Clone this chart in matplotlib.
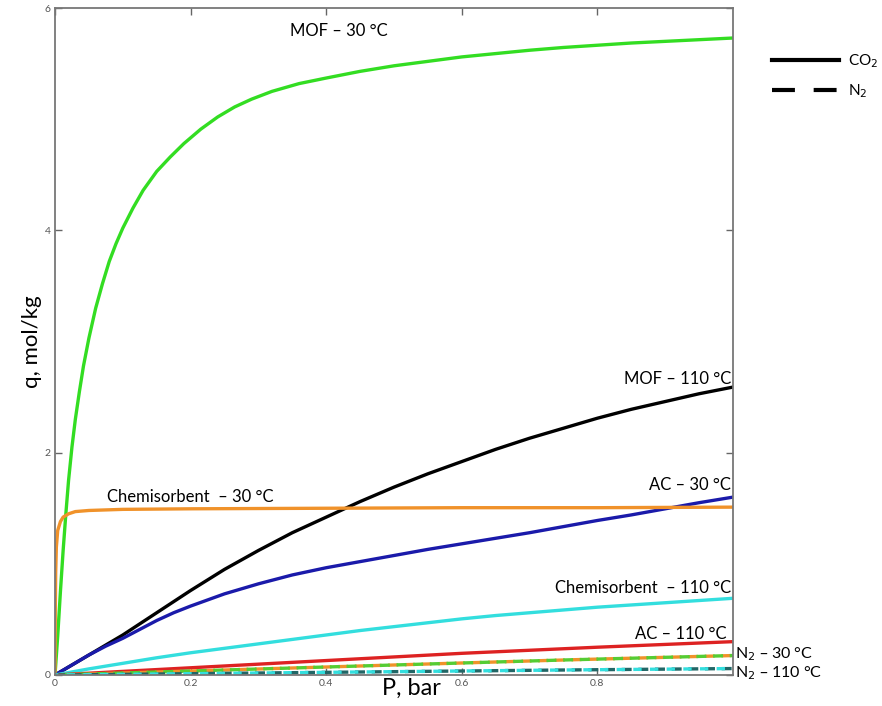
import matplotlib
matplotlib.use("Agg")
import matplotlib.pyplot as plt
from matplotlib.lines import Line2D

plt.rcParams['font.family'] = ['Lato', 'DejaVu Sans']

# ---- data ----
P_mof30 = [0, 0.004, 0.008, 0.012, 0.016, 0.02, 0.025, 0.03, 0.036, 0.042, 0.05, 0.06, 0.07,
           0.08, 0.09, 0.1, 0.115, 0.13, 0.15, 0.17, 0.19, 0.215, 0.24, 0.265, 0.29, 0.32,
           0.36, 0.4, 0.45, 0.5, 0.55, 0.6, 0.65, 0.7, 0.75, 0.8, 0.85, 0.9, 0.95, 1.0]
q_mof30 = [0, 0.35, 0.75, 1.12, 1.45, 1.75, 2.05, 2.3, 2.55, 2.78, 3.03, 3.3, 3.52,
           3.72, 3.88, 4.02, 4.2, 4.36, 4.53, 4.66, 4.78, 4.91, 5.02, 5.11, 5.18, 5.25,
           5.32, 5.37, 5.43, 5.48, 5.52, 5.56, 5.59, 5.62, 5.645, 5.665, 5.685, 5.70, 5.715, 5.73]

P_mof110 = [0, 0.025, 0.05, 0.075, 0.1, 0.15, 0.2, 0.25, 0.3, 0.35, 0.4, 0.45, 0.5, 0.55,
            0.6, 0.65, 0.7, 0.75, 0.8, 0.85, 0.9, 0.95, 1.0]
q_mof110 = [0, 0.09, 0.18, 0.27, 0.36, 0.56, 0.76, 0.95, 1.12, 1.28, 1.42, 1.56, 1.69, 1.81,
            1.92, 2.03, 2.13, 2.22, 2.31, 2.39, 2.46, 2.53, 2.59]

P_chem30 = [0, 0.0004, 0.001, 0.002, 0.004, 0.008, 0.012, 0.02, 0.03, 0.05, 0.1, 0.2, 0.4,
            0.6, 0.8, 1.0]
q_chem30 = [0, 0.55, 0.92, 1.15, 1.3, 1.38, 1.42, 1.45, 1.47, 1.48, 1.49, 1.495, 1.50,
            1.505, 1.505, 1.51]

P_ac30 = [0, 0.025, 0.05, 0.075, 0.1, 0.125, 0.15, 0.175, 0.2, 0.25, 0.3, 0.35, 0.4, 0.45,
          0.5, 0.55, 0.6, 0.65, 0.7, 0.75, 0.8, 0.85, 0.9, 0.95, 1.0]
q_ac30 = [0, 0.09, 0.18, 0.26, 0.33, 0.41, 0.49, 0.56, 0.62, 0.73, 0.82, 0.90, 0.965, 1.02,
          1.075, 1.13, 1.18, 1.23, 1.28, 1.335, 1.39, 1.44, 1.495, 1.55, 1.60]

P_chem110 = [0, 0.05, 0.1, 0.15, 0.2, 0.25, 0.3, 0.35, 0.4, 0.45, 0.5, 0.55, 0.6, 0.65,
             0.7, 0.75, 0.8, 0.85, 0.9, 0.95, 1.0]
q_chem110 = [0, 0.055, 0.105, 0.155, 0.20, 0.24, 0.28, 0.32, 0.36, 0.40, 0.435, 0.47, 0.505,
             0.535, 0.56, 0.585, 0.61, 0.63, 0.65, 0.67, 0.69]

P_ac110 = [0, 0.2, 0.4, 0.6, 0.8, 1.0]
q_ac110 = [0, 0.065, 0.13, 0.195, 0.25, 0.30]

P_n2_30 = [0, 0.25, 0.5, 0.75, 1.0]
q_n2_30 = [0, 0.045, 0.09, 0.135, 0.175]

P_n2_110 = [0, 0.25, 0.5, 0.75, 1.0]
q_n2_110 = [0, 0.015, 0.03, 0.045, 0.058]

x_ticks = [0, 0.2, 0.4, 0.6, 0.8]
x_tick_labels = ["0", "0.2", "0.4", "0.6", "0.8"]
y_ticks = [0, 2, 4, 6]
y_tick_labels = ["0", "2", "4", "6"]

# ---- figure ----
fig = plt.figure(figsize=(8.82, 7.06), dpi=100)
ax = fig.add_axes([55/882, 31/706, 678/882, 667/706])

lw = 2.4
ax.plot(P_mof30, q_mof30, color='#33dd22', lw=lw)
ax.plot(P_mof110, q_mof110, color='black', lw=lw)
ax.plot(P_ac30, q_ac30, color='#1a1aaa', lw=lw)
ax.plot(P_chem30, q_chem30, color='#f0922a', lw=lw)
ax.plot(P_chem110, q_chem110, color='#33dede', lw=lw)
ax.plot(P_ac110, q_ac110, color='#dd2222', lw=lw)
ax.plot(P_n2_30, q_n2_30, color='#f0922a', lw=lw, ls=(0, (3, 2)))
ax.plot(P_n2_30, q_n2_30, color='#55cc33', lw=lw, ls=(2.5, (3, 2)))
ax.plot(P_n2_110, q_n2_110, color='#226666', lw=lw, ls=(0, (3, 2)))
ax.plot(P_n2_110, q_n2_110, color='#33dede', lw=lw, ls=(1.5, (2.5, 2.5)))

ax.set_xlim(0, 1.0)
ax.set_ylim(0, 6)
ax.set_xticks(x_ticks)
ax.set_xticklabels(x_tick_labels)
ax.set_yticks(y_ticks)
ax.set_yticklabels(y_tick_labels)
ax.tick_params(direction='in', length=5, width=1, colors='#666666', labelsize=7.5,
               top=True, right=True, pad=3, labelcolor='#555555')
for s in ax.spines.values():
    s.set_color('#777777')
    s.set_linewidth(1.3)

ax.set_xlabel("P, bar", fontsize=17, labelpad=-6)
ax.xaxis.set_label_coords(0.525, -0.005, transform=ax.transAxes)
ax.xaxis.label.set_va('top')
ax.set_ylabel("q, mol/kg", fontsize=16, labelpad=2)

fs = 12
ax.text(0.346, 5.79, "MOF – 30 °C", fontsize=fs, ha='left', va='center')
ax.text(0.997, 2.66, "MOF – 110 °C", fontsize=fs, ha='right', va='center')
ax.text(0.077, 1.60, "Chemisorbent  – 30 °C", fontsize=fs, ha='left', va='center')
ax.text(0.997, 1.71, "AC – 30 °C", fontsize=fs, ha='right', va='center')
ax.text(0.997, 0.78, "Chemisorbent  – 110 °C", fontsize=fs, ha='right', va='center')
ax.text(0.99, 0.37, "AC – 110 °C", fontsize=fs, ha='right', va='center')
ax.text(1.003, 0.185, "N$_2$ – 30 °C", fontsize=11.5, ha='left', va='center', clip_on=False)
ax.text(1.003, 0.015, "N$_2$ – 110 °C", fontsize=11.5, ha='left', va='center', clip_on=False)

handles = [Line2D([0], [0], color='black', lw=3),
           Line2D([0], [0], color='black', lw=3, ls=(0, (5.5, 4.5)))]
fig.legend(handles, ["CO$_2$", "N$_2$"], loc='upper left',
           bbox_to_anchor=(772/882, 1 - 52/706), frameon=False, fontsize=11,
           handlelength=4.4, handletextpad=0.6, labelspacing=0.85,
           borderpad=0, borderaxespad=0)

fig.savefig("out.png", dpi=100)
